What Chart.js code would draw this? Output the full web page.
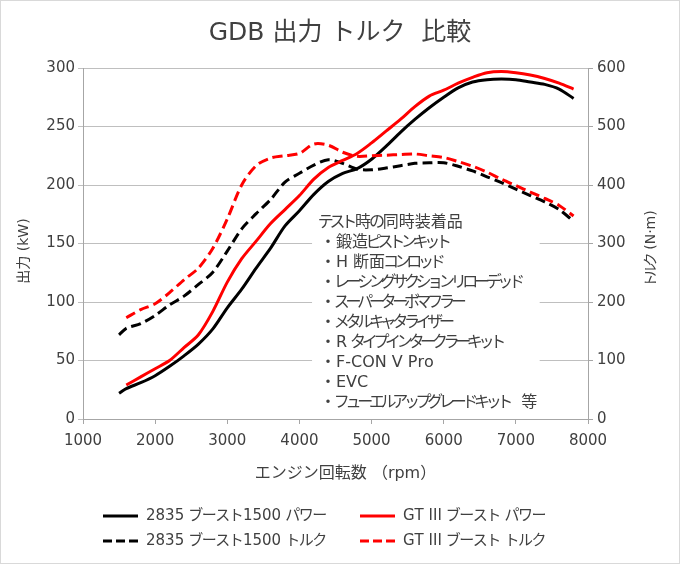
<!DOCTYPE html>
<html lang="ja">
<head>
<meta charset="utf-8">
<script src="https://cdn.jsdelivr.net/npm/chart.js@4.4.1/dist/chart.umd.min.js"></script>
<style>
html, body { margin: 0; padding: 0; background: #fff; }
#wrap { width: 680px; height: 564px; }
</style>
</head>
<body>
<div id="wrap"><canvas id="dyno-chart" width="680" height="564"></canvas></div>
<script>
// engine speed (rpm) shared by all series
const rpm = [1500, 1600, 1800, 2000, 2200, 2400, 2600, 2800, 3000, 3200, 3400, 3600, 3800, 4000, 4200, 4400,
    4600, 4800, 5000, 5200, 5400, 5600, 5800, 6000, 6200, 6400, 6600, 6800, 7000, 7200, 7400, 7600, 7800];

// 2835 boost 1500 (kW / N·m)
const stockPower = [22, 26, 31, 37, 45, 54, 64, 77, 95, 111, 129, 146, 165, 178, 192, 203,
    210, 214, 222, 233, 245, 256, 266, 275, 283, 288, 290, 290.5, 290, 288, 286, 282, 274];
const stockTorque = [144, 155, 163, 177, 195, 210, 230, 251, 287, 325, 351, 375, 405, 420, 434, 443,
    437, 427, 426, 429, 433, 437, 438, 438, 432, 424, 414, 404, 393, 382, 371, 358, 338];

// GT III boost (kW / N·m)
const gtPower = [null, 29, 36, 43, 50, 61, 72, 92, 117, 137, 152, 167, 179, 191, 205, 215,
    221, 227, 236, 246, 256, 267, 276, 281, 287, 292, 296, 297, 296, 294, 291, 287, 282];
const gtTorque = [null, 173, 187, 197, 216, 238, 258, 292, 342, 400, 433, 446, 450, 454, 470, 468,
    456, 449, 450, 451, 452, 453, 450, 447, 440, 432, 422, 410, 399, 388, 377, 365, 347];

const noteLines = [
    "テスト時の同時装着品",
    "・鍛造ピストンキット",
    "・H 断面コンロッド",
    "・レーシングサクションリローデッド",
    "・スーパーターボマフラー",
    "・メタルキャタライザー",
    "・R タイプインタークラーキット",
    "・F-CON V Pro",
    "・EVC",
    "・フューエルアップグレードキット  等"
];

const FONT = "'DejaVu Sans', 'Noto Sans CJK JP', sans-serif";
const TEXT = '#404040';
const GRID = '#bfbfbf';
const AXIS = '#a6a6a6';

function points(values) {
    return rpm.map((r, i) => ({ x: r, y: values[i] }));
}

// kana in the original font run narrower than the kanji, so tighten them
function isKana(ch) {
    const c = ch.codePointAt(0);
    return c >= 0x3041 && c <= 0x30ff && c !== 0x30fb;
}

function narrowWidth(ctx, text, factor) {
    let w = 0;
    for (const ch of text) {
        const cw = ctx.measureText(ch).width;
        w += isKana(ch) ? cw * factor : cw;
    }
    return w;
}

function fillNarrowKana(ctx, text, x, y, factor) {
    for (const ch of text) {
        const w = ctx.measureText(ch).width;
        const adv = isKana(ch) ? w * factor : w;
        ctx.fillText(ch, x + (adv - w) / 2, y);
        x += adv;
    }
}

const decorations = {
    id: 'decorations',
    beforeDatasetsDraw(chart) {
        const { ctx, scales } = chart;
        // white box for the note, hides the grid lines behind it
        const left = scales.x.getPixelForValue(4175);
        const right = scales.x.getPixelForValue(7330);
        const top = scales.y.getPixelForValue(177);
        const bottom = scales.y.getPixelForValue(4);
        ctx.save();
        ctx.fillStyle = '#fff';
        ctx.fillRect(left, top, right - left, bottom - top);
        ctx.fillStyle = TEXT;
        ctx.font = `16px ${FONT}`;
        ctx.textAlign = 'left';
        ctx.textBaseline = 'middle';
        noteLines.forEach((line, i) => {
            fillNarrowKana(ctx, line, 320, 223 + i * 20, 0.73);
        });
        ctx.restore();
    },
    afterDraw(chart) {
        const { ctx, chartArea } = chart;
        ctx.save();
        ctx.fillStyle = TEXT;
        ctx.textAlign = 'center';
        ctx.textBaseline = 'middle';

        ctx.font = `25px ${FONT}`;
        ctx.fillText("GDB 出力 トルク  比較", 340, 33);

        ctx.font = `16px ${FONT}`;
        ctx.fillText("エンジン回転数 （rpm）", (chartArea.left + chartArea.right) / 2 + 10, 474);

        ctx.textAlign = 'left';
        ctx.font = `14px ${FONT}`;
        const yTitle = "出力 (kW)";
        ctx.save();
        ctx.translate(24, 251);
        ctx.rotate(-Math.PI / 2);
        fillNarrowKana(ctx, yTitle, -narrowWidth(ctx, yTitle, 0.75) / 2, 0, 0.75);
        ctx.restore();

        const y1Title = "トルク (N·m)";
        ctx.save();
        ctx.translate(651, 248);
        ctx.rotate(-Math.PI / 2);
        fillNarrowKana(ctx, y1Title, -narrowWidth(ctx, y1Title, 0.75) / 2, 0, 0.75);
        ctx.restore();

        // legend, 2 x 2
        const slots = [
            { ds: 2, x: 103, y: 516 },
            { ds: 0, x: 360, y: 516 },
            { ds: 3, x: 103, y: 541 },
            { ds: 1, x: 360, y: 541 }
        ];
        ctx.font = `15px ${FONT}`;
        slots.forEach(s => {
            const d = chart.data.datasets[s.ds];
            ctx.beginPath();
            ctx.strokeStyle = d.borderColor;
            ctx.lineWidth = 3;
            ctx.setLineDash(d.borderDash ? [9, 4] : []);
            ctx.moveTo(s.x, s.y);
            ctx.lineTo(s.x + 35, s.y);
            ctx.stroke();
            ctx.setLineDash([]);
            fillNarrowKana(ctx, d.label, s.x + 43, s.y, 0.9);
        });

        // outer frame
        ctx.strokeStyle = '#d9d9d9';
        ctx.lineWidth = 1;
        ctx.strokeRect(0.5, 0.5, 679, 563);
        ctx.restore();
    }
};

const ctx = document.getElementById("dyno-chart");

new Chart(ctx, {
    type: 'line',
    data: {
        datasets: [
            {
                label: 'GT III ブースト パワー',
                data: points(gtPower),
                borderColor: '#ff0000',
                yAxisID: 'y'
            },
            {
                label: 'GT III ブースト トルク',
                data: points(gtTorque),
                borderColor: '#ff0000',
                borderDash: [10, 5],
                yAxisID: 'y1'
            },
            {
                label: '2835 ブースト1500 パワー',
                data: points(stockPower),
                borderColor: '#000000',
                yAxisID: 'y'
            },
            {
                label: '2835 ブースト1500 トルク',
                data: points(stockTorque),
                borderColor: '#000000',
                borderDash: [10, 5],
                yAxisID: 'y1'
            }
        ]
    },
    options: {
        responsive: false,
        animation: false,
        devicePixelRatio: 1,
        layout: { padding: { top: 68, left: 0, right: 0, bottom: 0 } },
        elements: {
            line: { borderWidth: 3, tension: 0.3, fill: false },
            point: { radius: 0, hoverRadius: 0 }
        },
        plugins: {
            legend: { display: false },
            tooltip: { enabled: false },
            title: { display: false }
        },
        scales: {
            x: {
                type: 'linear',
                min: 1000,
                max: 8000,
                ticks: {
                    stepSize: 1000,
                    color: TEXT,
                    font: { family: FONT, size: 15 },
                    padding: 8,
                    maxRotation: 0,
                    callback: v => String(v)
                },
                grid: { drawOnChartArea: false, drawTicks: true, tickLength: 5, color: AXIS },
                border: { color: AXIS },
                afterFit: scale => { scale.height = 145; }
            },
            y: {
                position: 'left',
                min: 0,
                max: 300,
                ticks: {
                    stepSize: 50,
                    color: TEXT,
                    font: { family: FONT, size: 15 },
                    padding: 3
                },
                grid: { color: GRID, tickLength: 5 },
                border: { color: AXIS },
                afterFit: scale => { scale.width = 83; }
            },
            y1: {
                position: 'right',
                min: 0,
                max: 600,
                ticks: {
                    stepSize: 100,
                    color: TEXT,
                    font: { family: FONT, size: 15 },
                    padding: 4
                },
                grid: { drawOnChartArea: false, tickLength: 5, color: AXIS },
                border: { color: AXIS },
                afterFit: scale => { scale.width = 92; }
            }
        }
    },
    plugins: [decorations]
});
</script>
</body>
</html>
